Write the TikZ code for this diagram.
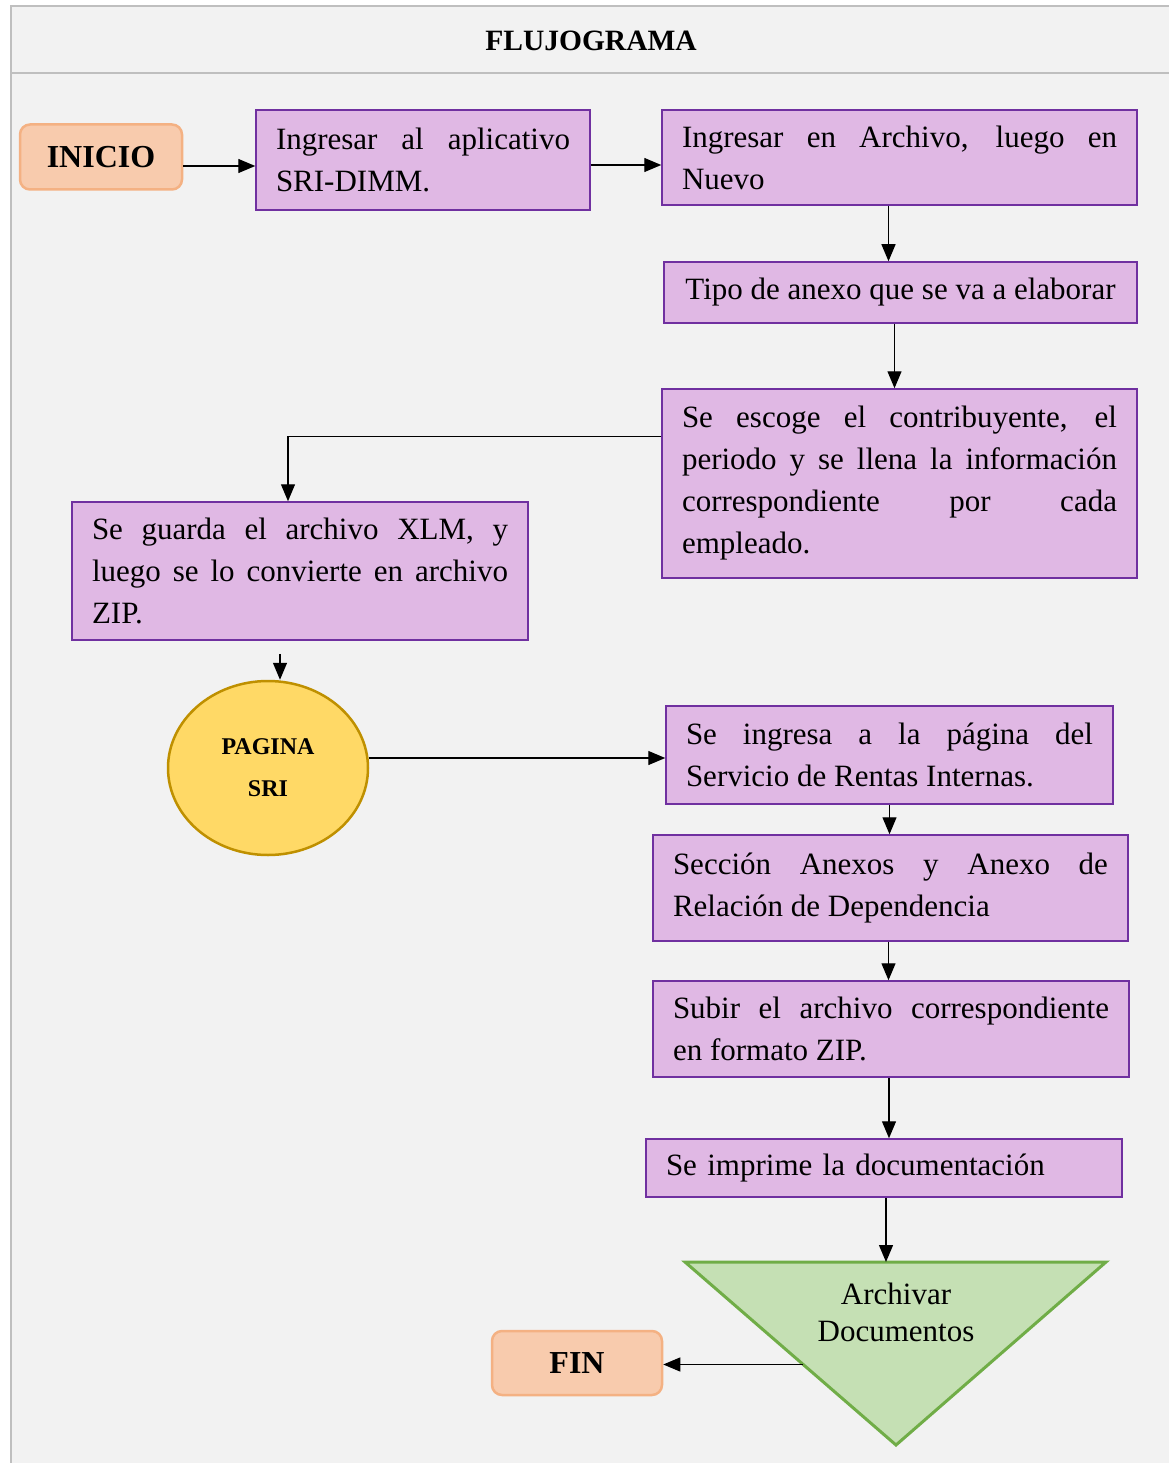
\documentclass[tikz,border=0pt]{standalone}
\usepackage{fontspec}
\setmainfont{Liberation Serif}
\usepackage{xcolor}
\usetikzlibrary{arrows.meta}
\usetikzlibrary{shapes.geometric, calc}
\definecolor{fondo}{RGB}{242,242,242}
\definecolor{marco}{RGB}{191,191,191}
\definecolor{lila}{RGB}{224,184,228}
\definecolor{morado}{RGB}{112,48,160}
\definecolor{salmon}{RGB}{248,203,173}
\definecolor{salmonb}{RGB}{244,177,131}
\definecolor{amarillo}{RGB}{255,217,102}
\definecolor{ocre}{RGB}{191,144,0}
\definecolor{verde}{RGB}{197,224,180}
\definecolor{verdeb}{RGB}{112,173,71}
\tolerance=9999
\hyphenpenalty=10000

\begin{document}
\begin{tikzpicture}[x=1pt,y=-1pt,
  texto/.style={font=\fontsize{31}{42}\selectfont},
  caja/.style={texto, draw=morado, fill=lila, line width=1.5pt, inner xsep=20pt, inner ysep=0pt, align=justify},
  extremo/.style={draw=salmonb, fill=salmon, line width=2.5pt, rounded corners=10pt, font=\fontsize{32}{38}\selectfont\bfseries},
  flecha/.style={-{Triangle[length=17pt,width=14pt]}, line width=1.3pt}]
\useasboundingbox (0,0) rectangle (1169,1463);

%marco
\fill[white] (0,0) rectangle (1169,1463);
\fill[fondo] (11,6) rectangle (1169,1463);
\draw[marco, line width=2pt] (11,1463) -- (11,6) -- (1169,6);
\draw[marco, line width=2pt] (11,73) -- (1169,73);
\node[font=\fontsize{29.5}{34}\selectfont\bfseries] (titulo) at (591,41) {FLUJOGRAMA};

%columna de arriba
\node[extremo, minimum width=162pt, minimum height=65pt] (inicio) at (101,157) {INICIO};
\node[caja, text width=294pt, minimum height=100pt] (ingreso) at (423,160)
  {Ingresar al aplicativo\linebreak SRI-DIMM.};
\node[caja, text width=435pt, minimum height=95pt] (archivo) at (899.5,157.5)
  {Ingresar en Archivo, luego en\linebreak Nuevo};
\node[caja, align=center, minimum width=473pt, minimum height=61pt] (tipo) at (900.5,292.5)
  {Tipo de anexo que se va a elaborar};
\node[caja, text width=435pt, minimum height=189pt] (escoge) at (899.5,483.5)
  {Se escoge el contribuyente, el\linebreak periodo y se llena la informaci\'on\linebreak correspondiente por cada\linebreak empleado.};
\node[caja, text width=416pt, minimum height=138pt] (guarda) at (300,571)
  {Se guarda el archivo XLM, y\linebreak luego se lo convierte en archivo\linebreak ZIP.};

%pagina
\node[ellipse, draw=ocre, fill=amarillo, line width=2.5pt, minimum width=200pt, minimum height=174pt,
  align=center, font=\fontsize{24}{42}\selectfont\bfseries] (pagina) at (268,768) {PAGINA\\SRI};

%columna de abajo
\node[caja, text width=407pt, minimum height=98pt] (servicio) at (889.5,755)
  {Se ingresa a la p\'agina del\linebreak Servicio de Rentas Internas.};
\node[caja, text width=435pt, minimum height=106pt] (seccion) at (890.5,888)
  {Secci\'on Anexos y Anexo de\linebreak Relaci\'on de Dependencia};
\node[caja, text width=436pt, minimum height=96pt] (subir) at (891,1029)
  {Subir el archivo correspondiente\linebreak en formato ZIP.};
\node[caja, align=left, text width=436pt, minimum height=58pt] (imprime) at (884,1168)
  {Se imprime la documentaci\'on};

%archivar
\coordinate (tl) at (685,1262);
\coordinate (tr) at (1106,1262);
\coordinate (bt) at (896,1445);
\draw[fill=verde, draw=verdeb, line width=3pt] (tl) -- (tr) -- (bt) -- cycle;
\node[texto, align=center, font=\fontsize{31}{37}\selectfont] (archivar) at (896,1312) {Archivar\\Documentos};
\coordinate (borde) at ($(tl)!0.56!(bt)$);
\node[extremo, minimum width=170pt, minimum height=64pt] (fin) at (577,1363) {FIN};

%flechas
\draw[flecha] ([yshift=-9pt]inicio.east) -- ([yshift=-9pt]inicio.east -| ingreso.west);
\draw[flecha] ([yshift=-5pt]ingreso.east) -- ([yshift=-5pt]ingreso.east -| archivo.west);
\draw[flecha] ([xshift=-11pt]archivo.south) -- ([xshift=-11pt]archivo.south |- tipo.north);
\draw[flecha] ([xshift=-6pt]tipo.south) -- ([xshift=-6pt]tipo.south |- escoge.north);
\draw[flecha] ([yshift=47pt]escoge.west) -| ([xshift=-12pt]guarda.north);
\draw[flecha] ([shift={(-20pt,-13pt)}]guarda.south) -- ([xshift=-20pt]guarda.south |- pagina.north);
\draw[flecha] ([yshift=10pt]pagina.east) -- ([yshift=10pt]pagina.east -| servicio.west);
\draw[flecha] (servicio.south) -- (servicio.south |- seccion.north);
\draw[flecha] ([xshift=-2pt]seccion.south) -- ([xshift=-2pt]seccion.south |- subir.north);
\draw[flecha] ([xshift=-2pt]subir.south) -- ([xshift=-2pt]subir.south |- imprime.north);
\draw[flecha] ([xshift=2pt]imprime.south) -- ([xshift=2pt]imprime.south |- tl);
\draw[flecha] (borde) -- (borde -| fin.east);
\end{tikzpicture}
\end{document}
